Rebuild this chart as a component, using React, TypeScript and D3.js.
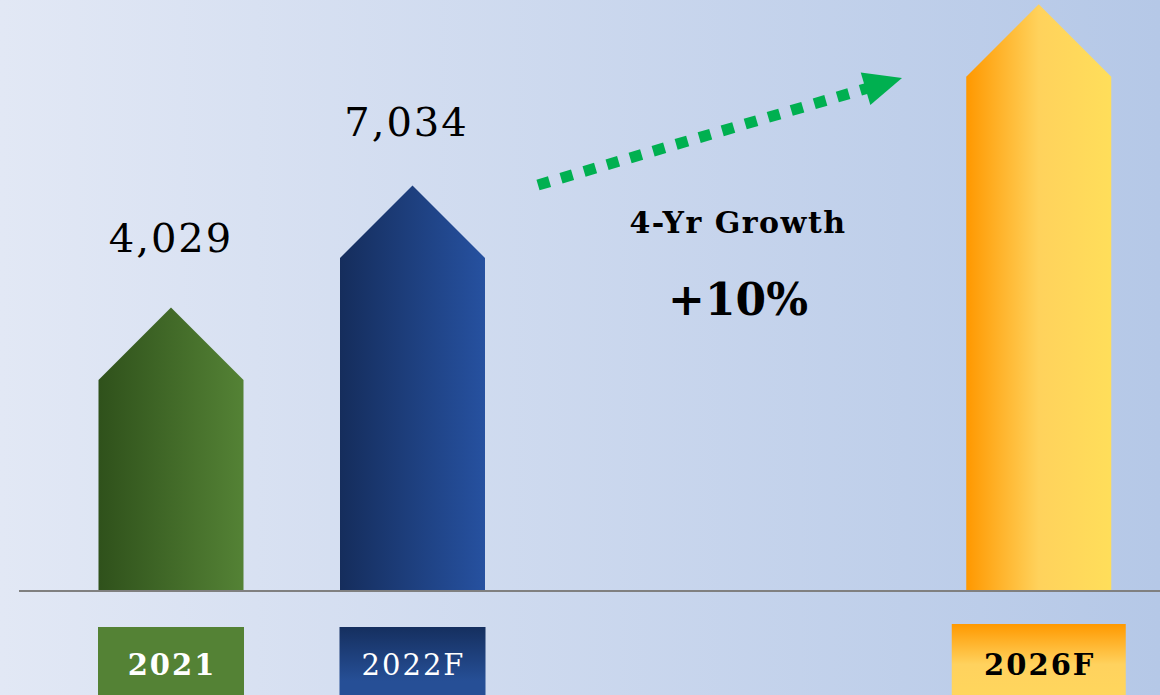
import React from "react";
import * as d3 from "d3";

const categories = ["2021", "2022F", "2026F"];
const values = [4029, 7034, 11500];
const valueLabels = ["4,029", "7,034", "11,500"];
const growthTitle = "4-Yr Growth";
const growthValue = "+10%";

const W = 1160;
const H = 695;
const baseY = 591;
const barW = 145;
const font = "'DejaVu Serif', 'Liberation Serif', serif";
const labelDx = [0, -6, 0];
const labelGap = [56, 50, 50];

const barGrad = [
  ["#2f511b", "#548235"],
  ["#152d5c", "#2651a0"],
  ["#ff9800", "#ffd25c", "#ffde5a"],
];

export default function App() {
  const x = d3.scaleOrdinal<string, number>().domain(categories).range([171, 412.5, 1038.75]);
  const y = d3.scaleLinear().domain([4029, 7034]).range([380, 258]);

  const arrowStart: [number, number] = [538, 185];
  const arrowEnd: [number, number] = [902, 78];
  const ang = Math.atan2(arrowEnd[1] - arrowStart[1], arrowEnd[0] - arrowStart[0]);
  const headLen = 38;
  const headHalf = 17;
  const bx = arrowEnd[0] - headLen * Math.cos(ang);
  const by = arrowEnd[1] - headLen * Math.sin(ang);
  const px = -Math.sin(ang);
  const py = Math.cos(ang);
  const lineEnd: [number, number] = [bx + 2 * Math.cos(ang), by + 2 * Math.sin(ang)];

  return (
    <svg width={W} height={H} style={{ position: "absolute", left: 0, top: 0, display: "block" }}>
      <defs>
        <linearGradient id="bg" x1="0" x2="1" y1="0" y2="0">
          <stop offset="0" stopColor="#e2e8f5" />
          <stop offset="1" stopColor="#b5c8e7" />
        </linearGradient>
        {barGrad.map((g, i) => (
          <linearGradient key={i} id={`bar${i}`} x1="0" x2="1" y1="0" y2="0">
            {g.map((c, j) => (
              <stop key={j} offset={j / (g.length - 1)} stopColor={c} />
            ))}
          </linearGradient>
        ))}
        <linearGradient id="box1" x1="0" x2="0" y1="0" y2="1">
          <stop offset="0" stopColor="#152f5f" />
          <stop offset="0.6" stopColor="#264f96" />
          <stop offset="1" stopColor="#264f96" />
        </linearGradient>
        <linearGradient id="box2" x1="0" x2="0" y1="0" y2="1">
          <stop offset="0" stopColor="#ff9900" />
          <stop offset="0.45" stopColor="#ffd25e" />
          <stop offset="1" stopColor="#ffd85c" />
        </linearGradient>
      </defs>
      <rect x={0} y={0} width={W} height={H} fill="url(#bg)" />

      {categories.map((c, i) => {
        const cx = x(c);
        const x0 = cx - barW / 2;
        const x1 = cx + barW / 2;
        const top = y(values[i]);
        const tip = top - barW / 2;
        const d = `M${x0},${baseY} L${x0},${top} L${cx},${tip} L${x1},${top} L${x1},${baseY} Z`;
        const ly = tip - labelGap[i];
        return (
          <g key={c}>
            <path d={d} fill={`url(#bar${i})`} />
            {ly > 40 && (
              <text
                x={cx + labelDx[i]}
                y={ly}
                textAnchor="middle"
                fontFamily={font}
                fontSize={40}
                letterSpacing={2}
                fill="#000"
              >
                {valueLabels[i]}
              </text>
            )}
          </g>
        );
      })}

      <line x1={19} x2={W} y1={baseY} y2={baseY} stroke="#808080" strokeWidth={2} />

      {categories.map((c, i) => {
        const cx = x(c);
        const bw = i === 2 ? 174 : barW + 1;
        const top = i === 2 ? 624 : 627;
        const fill = i === 0 ? "#548235" : i === 1 ? "url(#box1)" : "url(#box2)";
        return (
          <g key={`b${c}`}>
            <rect x={cx - bw / 2} y={top} width={bw} height={90} fill={fill} />
            <text
              x={cx + 1}
              y={675}
              textAnchor="middle"
              fontFamily={font}
              fontSize={29}
              letterSpacing={2}
              fontWeight={i === 1 ? "normal" : "bold"}
              fill={i === 2 ? "#000" : "#fff"}
            >
              {c}
            </text>
          </g>
        );
      })}

      <line
        x1={arrowStart[0]}
        y1={arrowStart[1]}
        x2={lineEnd[0]}
        y2={lineEnd[1]}
        stroke="#00b050"
        strokeWidth={11}
        strokeDasharray="12 12"
      />
      <path
        d={`M${arrowEnd[0]},${arrowEnd[1]} L${bx + px * headHalf},${by + py * headHalf} L${bx - px * headHalf},${by - py * headHalf} Z`}
        fill="#00b050"
      />

      <text x={738} y={233} textAnchor="middle" fontFamily={font} fontSize={30} letterSpacing={1.5} fontWeight="bold" fill="#000">
        {growthTitle}
      </text>
      <text x={738} y={315} textAnchor="middle" fontFamily={font} fontSize={44} fontWeight="bold" fill="#000">
        {growthValue}
      </text>
    </svg>
  );
}
